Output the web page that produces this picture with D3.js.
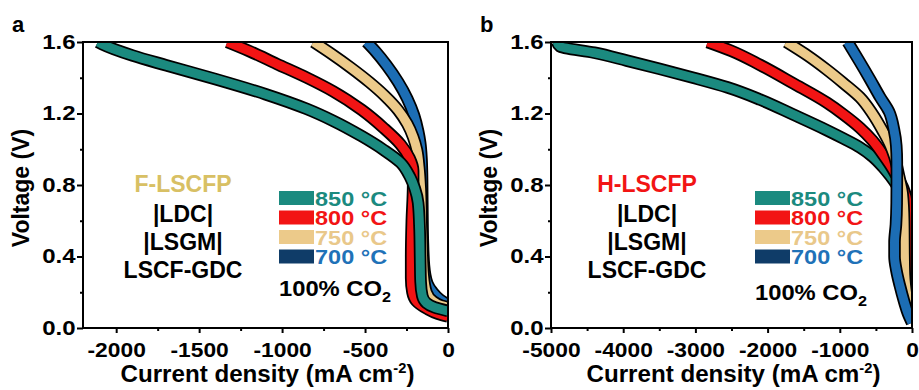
<!DOCTYPE html>
<html>
<head>
<meta charset="utf-8">
<script src="https://cdn.jsdelivr.net/npm/d3@7"></script>
<style>
    body { margin: 0; background: #fff; }
    svg { display: block; font-family: 'Liberation Sans', Arial, sans-serif; font-weight: bold; }
</style>
</head>
<body>
<div id="chart"></div>
<script>
// Temperatures and colours
const tempLabels = ['850\u00a0°C', '800\u00a0°C', '750\u00a0°C', '700\u00a0°C'];
const curveColors = ['#1b8a7f', '#f21414', '#ecca8a', '#1c6db4'];
const legendRectColors = ['#1b8a7f', '#f21414', '#ecca8a', '#0f3c68'];
const legendTextColors = ['#1b8a7f', '#f21414', '#e9c88a', '#1f72b8'];

// Axis ticks
const yTicks = [0, 0.4, 0.8, 1.2, 1.6];
const yMinor = [0.2, 0.6, 1.0, 1.4];
const xTicksA = [-2000, -1500, -1000, -500, 0];
const xMinorA = [-1750, -1250, -750, -250];
const xTicksB = [-5000, -4000, -3000, -2000, -1000, 0];
const xMinorB = [-4500, -3500, -2500, -1500, -500];

// Cell stack text
const stackA = ['F-LSCFP', '|LDC|', '|LSGM|', 'LSCF-GDC'];
const stackB = ['H-LSCFP', '|LDC|', '|LSGM|', 'LSCF-GDC'];

// Panel a curves: [current density (mA cm-2), voltage (V)]
const a850 = [[-2110, 1.60], [-2085, 1.588], [-1900, 1.524], [-1700, 1.47], [-1400, 1.392], [-1100, 1.308],
    [-850, 1.225], [-692, 1.159], [-520, 1.073], [-389, 0.997], [-286, 0.925], [-229, 0.845], [-200, 0.78],
    [-180, 0.70], [-171, 0.55], [-168, 0.40], [-165, 0.26], [-155, 0.18], [-130, 0.14], [-80, 0.115], [0, 0.095]];
const a800 = [[-1330, 1.60], [-1200, 1.55], [-1033, 1.478], [-850, 1.40], [-692, 1.324], [-520, 1.22],
    [-389, 1.12], [-286, 1.027], [-232, 0.95], [-210, 0.88], [-210, 0.80], [-218, 0.60], [-222, 0.40],
    [-222, 0.28], [-214, 0.20], [-190, 0.15], [-130, 0.11], [-60, 0.08], [0, 0.065]];
const a750 = [[-810, 1.60], [-700, 1.532], [-590, 1.459], [-475, 1.376], [-380, 1.298], [-300, 1.218],
    [-245, 1.141], [-210, 1.068], [-188, 0.998], [-174, 0.90], [-165, 0.78], [-160, 0.60], [-155, 0.45],
    [-148, 0.30], [-130, 0.20], [-90, 0.15], [-40, 0.125], [0, 0.115]];
const a700 = [[-490, 1.60], [-435, 1.545], [-370, 1.47], [-300, 1.375], [-245, 1.282], [-205, 1.19],
    [-180, 1.10], [-168, 1.037], [-160, 0.95], [-157, 0.87], [-155, 0.70], [-152, 0.50], [-145, 0.35],
    [-125, 0.25], [-92, 0.20], [-50, 0.16], [0, 0.13]];

// Panel b curves
const b850 = [[-4917, 1.60], [-4875, 1.575], [-4400, 1.54], [-3950, 1.496], [-3500, 1.45], [-3030, 1.40],
    [-2550, 1.345], [-2105, 1.278], [-1650, 1.195], [-1177, 1.106], [-950, 1.06], [-720, 1.01], [-550, 0.96],
    [-402, 0.90], [-300, 0.85], [-180, 0.78], [-50, 0.70], [-20, 0.50], [-14, 0.30], [-8, 0.15], [0, 0.05]];
const b800 = [[-2830, 1.60], [-2500, 1.55], [-2105, 1.472], [-1650, 1.37], [-1177, 1.26], [-950, 1.195],
    [-720, 1.12], [-550, 1.05], [-402, 0.97], [-300, 0.91], [-240, 0.87], [-120, 0.78],
    [-60, 0.68], [-45, 0.50], [-45, 0.30], [-35, 0.18], [-15, 0.08], [0, 0.04]];
const b750 = [[-1740, 1.60], [-1450, 1.525], [-1177, 1.444], [-950, 1.37], [-720, 1.29], [-550, 1.20],
    [-402, 1.10], [-300, 1.02], [-245, 0.96], [-180, 0.85], [-130, 0.75], [-110, 0.60],
    [-105, 0.40], [-100, 0.30], [-70, 0.18], [-30, 0.09], [0, 0.04]];
const b700 = [[-890, 1.60], [-740, 1.50], [-580, 1.39], [-440, 1.29], [-318, 1.21], [-250, 1.11],
    [-218, 1.02], [-210, 0.93], [-210, 0.82], [-212, 0.70], [-222, 0.58], [-242, 0.48],
    [-242, 0.40], [-215, 0.32], [-170, 0.24], [-110, 0.15], [-55, 0.08], [0, 0.03]];

const W = 919, H = 390;
const plotTop = 42, plotBottom = 328;

const svg = d3.select('#chart')
    .append('svg')
    .attr('width', W)
    .attr('height', H);

// Text helper with an optional horizontal stretch
function label(g, x, y, text, size, fill, anchor, sx) {
    return g.append('text')
        .attr('transform', `translate(${x},${y}) scale(${sx || 1},1)`)
        .attr('text-anchor', anchor || 'start')
        .style('font-size', size + 'px')
        .style('fill', fill || '#000')
        .text(text);
}

function drawPanel(cfg) {
    const g = svg.append('g');
    const x = d3.scaleLinear().domain(cfg.xDomain).range([cfg.left, cfg.right]);
    const y = d3.scaleLinear().domain([0, 1.6]).range([plotBottom, plotTop]);

    const clipId = 'clip-' + cfg.name;
    svg.append('clipPath')
        .attr('id', clipId)
        .append('rect')
        .attr('x', cfg.left)
        .attr('y', plotTop)
        .attr('width', cfg.right - cfg.left)
        .attr('height', plotBottom - plotTop);

    // voltage falls steadily along each curve, so interpolate current as a function of voltage
    const line = d3.line()
        .x(d => x(d[0]))
        .y(d => y(d[1]))
        .curve(d3.curveMonotoneY);

    const curves = g.append('g').attr('clip-path', `url(#${clipId})`);
    cfg.order.forEach(i => {
        curves.append('path')
            .attr('d', line(cfg.curves[i]))
            .attr('fill', 'none')
            .attr('stroke', '#000')
            .attr('stroke-width', 12.5)
            .attr('stroke-linejoin', 'round');
        curves.append('path')
            .attr('d', line(cfg.curves[i]))
            .attr('fill', 'none')
            .attr('stroke', curveColors[i])
            .attr('stroke-width', 9)
            .attr('stroke-linejoin', 'round');
    });

    // Frame
    g.append('rect')
        .attr('x', cfg.left)
        .attr('y', plotTop)
        .attr('width', cfg.right - cfg.left)
        .attr('height', plotBottom - plotTop)
        .attr('fill', 'none')
        .attr('stroke', '#000')
        .attr('stroke-width', 2);

    // X axis
    const xAxis = g.append('g')
        .attr('transform', `translate(0,${plotBottom})`)
        .call(d3.axisBottom(x).tickValues(cfg.xTicks).tickSize(5).tickPadding(9.5)
            .tickFormat(d => String(d)));
    g.append('g')
        .attr('transform', `translate(0,${plotBottom})`)
        .call(d3.axisBottom(x).tickValues(cfg.xMinor).tickSize(3).tickFormat(''));

    // Y axis
    const yAxis = g.append('g')
        .attr('transform', `translate(${cfg.left},0)`)
        .call(d3.axisLeft(y).tickValues(yTicks).tickSize(6).tickFormat(d3.format('.1f')));
    g.append('g')
        .attr('transform', `translate(${cfg.left},0)`)
        .call(d3.axisLeft(y).tickValues(yMinor).tickSize(3).tickFormat(''));

    g.selectAll('.domain').remove();
    g.selectAll('.tick line').attr('stroke', '#000').attr('stroke-width', 2);
    g.selectAll('.tick text')
        .style('font-size', '20px')
        .style('font-family', "'Liberation Sans', Arial, sans-serif")
        .style('font-weight', 'bold')
        .attr('fill', '#000');
    xAxis.selectAll('text').attr('transform', 'scale(1.14,1)');
    yAxis.selectAll('text').attr('x', -7.5 / 1.2).attr('transform', 'scale(1.2,1)');

    // Axis titles
    const xt = g.append('text')
        .attr('transform', `translate(${(cfg.left + cfg.right) / 2 + 2},382) scale(1.05,1)`)
        .attr('text-anchor', 'middle')
        .style('font-size', '23px');
    xt.append('tspan').text('Current density (mA cm');
    xt.append('tspan').attr('dy', -9).style('font-size', '14px').text('-2');
    xt.append('tspan').attr('dy', 9).text(')');

    g.append('text')
        .attr('transform', `translate(${cfg.left - 54},${(plotTop + plotBottom) / 2 + 3}) rotate(-90)`)
        .attr('text-anchor', 'middle')
        .style('font-size', '23px')
        .text('Voltage (V)');

    // Panel letter
    label(g, cfg.left - 71, 32, cfg.name, 22, '#000', 'start');

    // Cell stack description
    const stackY = [192, 222, 250, 278];
    cfg.stack.forEach((s, i) => {
        label(g, cfg.stackX, stackY[i], s, 23, i === 0 ? cfg.stackColor : '#000', 'middle');
    });

    // Legend
    const legY = [191, 210.5, 230, 249.5];
    tempLabels.forEach((t, i) => {
        g.append('rect')
            .attr('x', cfg.legX)
            .attr('y', legY[i])
            .attr('width', 35)
            .attr('height', 14)
            .attr('fill', legendRectColors[i]);
        label(g, cfg.legX + 36, legY[i] + 14.5, t, 21, legendTextColors[i], 'start', 1.12);
    });
    const co = label(g, cfg.legX, cfg.coY, '100% CO', 22, '#000', 'start', 1.08);
    co.append('tspan').attr('dy', 6).style('font-size', '15px').text('2');
}

drawPanel({
    name: 'a', left: 83, right: 448, xDomain: [-2200, 0],
    xTicks: xTicksA, xMinor: xMinorA,
    curves: [a850, a800, a750, a700], order: [3, 2, 1, 0],
    stack: stackA, stackX: 183, stackColor: '#d8c064',
    legX: 279, coY: 296
});

drawPanel({
    name: 'b', left: 551, right: 912, xDomain: [-5000, 0],
    xTicks: xTicksB, xMinor: xMinorB,
    curves: [b850, b800, b750, b700], order: [0, 1, 2, 3],
    stack: stackB, stackX: 647, stackColor: '#f21414',
    legX: 755, coY: 300
});
</script>
</body>
</html>
